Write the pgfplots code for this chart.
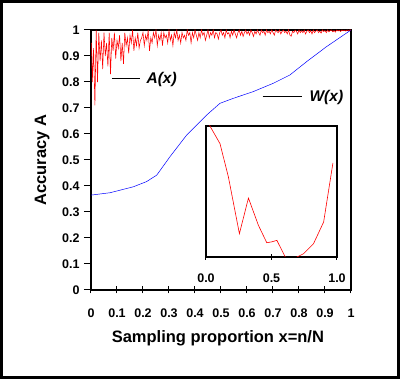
\documentclass[border=0pt]{standalone}
\usepackage{pgfplots}
\pgfplotsset{compat=1.18}
\usepackage{fontspec}
\setmainfont{Liberation Sans}
\begin{document}
\begin{tikzpicture}
\begin{axis}[name=main, at={(0,0)}, anchor=south west,
  width=260pt, height=260pt, scale only axis,
  xmin=0, xmax=1, ymin=0, ymax=1,
  xtick={0,0.1,...,1}, ytick={0,0.1,...,1},
  xtick pos=left, ytick pos=left,
  x tick style={black, line width=1pt}, y tick style={black, line width=1pt},
  xtick align=center, ytick align=outside,
  major tick length=7pt,
  axis line style={line width=1.3pt},
  /pgf/number format/assume math mode=true,
  ticklabel style={font=\fontsize{12.5}{14}\selectfont\bfseries},
  xticklabel style={anchor=center, yshift=-20pt},
  yticklabel style={anchor=east, xshift=-1pt},
  xlabel={Sampling proportion x=n/N},
  ylabel={Accuracy A},
  label style={font=\fontsize{16.5}{18}\selectfont\bfseries},
  xlabel style={at={(axis description cs:0.488,-0.185)}, anchor=center},
  ylabel style={at={(axis description cs:-0.188,0.5)}, anchor=center},
  clip=true,
]
\addplot[blue, line width=0.5pt] coordinates {
(0,0.365) (0.073,0.374) (0.163,0.397) (0.214,0.417) (0.253,0.442) (0.304,0.513)
(0.368,0.596) (0.445,0.673) (0.496,0.718) (0.547,0.737) (0.624,0.763) (0.701,0.795)
(0.765,0.827) (0.829,0.878) (0.906,0.936) (1,1)};
\addplot[red, line width=0.55pt] coordinates {
(0.002,0.95) (0.005,0.80) (0.010,0.93) (0.015,0.71) (0.020,1.00) (0.025,0.80) (0.030,0.99)
(0.035,0.88) (0.040,0.96) (0.045,0.85) (0.050,0.99) (0.055,0.90) (0.060,0.95)
(0.065,0.86) (0.070,0.99) (0.075,0.83) (0.080,0.97) (0.085,0.92) (0.090,0.99)
(0.095,0.89) (0.100,0.96) (0.105,0.93) (0.110,0.98) (0.115,0.88) (0.120,0.95)
(0.125,0.87) (0.130,0.99) (0.135,0.94) (0.140,0.97) (0.145,0.91) (0.150,0.98)
(0.155,0.95) (0.160,1.00) (0.165,0.92) (0.170,0.97) (0.175,0.94) (0.180,0.99)
(0.185,0.93) (0.190,0.96) (0.195,0.97) (0.200,0.99) (0.205,0.94) (0.210,0.98)
(0.215,0.96) (0.220,1.00) (0.225,0.92) (0.230,0.97) (0.235,0.95) (0.240,0.99)
(0.245,0.97) (0.250,1.00) (0.255,0.94) (0.260,0.98) (0.265,0.96) (0.270,0.99)
(0.275,0.94) (0.280,0.99) (0.285,0.97) (0.290,0.98) (0.295,0.95) (0.300,1.00)
(0.305,0.96) (0.310,0.98) (0.315,0.94) (0.320,0.99) (0.325,0.97) (0.330,1.00)
(0.335,0.96) (0.340,0.98) (0.345,0.95) (0.350,0.99) (0.355,0.97) (0.360,0.98)
(0.365,0.96) (0.370,1.00) (0.375,0.98) (0.380,0.99) (0.385,0.95) (0.390,0.99)
(0.395,0.97) (0.400,1.00) (0.405,0.98) (0.410,0.96) (0.415,0.99) (0.420,0.97)
(0.425,1.00) (0.430,0.98) (0.435,0.99) (0.440,0.96) (0.445,0.98) (0.450,1.00)
(0.455,0.97) (0.460,0.99) (0.465,0.98) (0.470,1.00) (0.475,0.97) (0.480,0.99)
(0.485,0.985) (0.490,0.965) (0.495,0.99) (0.500,1.00) (0.505,0.98) (0.510,0.99)
(0.515,0.97) (0.520,1.00) (0.525,0.985) (0.530,0.99) (0.535,0.97) (0.540,0.995)
(0.545,0.98) (0.550,1.00) (0.555,0.985) (0.560,0.97) (0.565,0.99) (0.570,1.00)
(0.575,0.98) (0.580,0.995) (0.585,0.975) (0.590,0.99) (0.595,1.00) (0.600,0.985)
(0.605,0.995) (0.610,0.98) (0.615,1.00) (0.620,0.99) (0.625,0.975) (0.630,0.995)
(0.635,0.985) (0.640,1.00) (0.645,0.99) (0.650,0.98) (0.655,1.00) (0.660,0.99)
(0.665,0.995) (0.670,0.98) (0.675,1.00) (0.680,0.99) (0.685,0.995) (0.690,0.985)
(0.695,1.00) (0.700,0.99) (0.705,0.98) (0.710,1.00) (0.715,0.995) (0.720,0.99)
(0.725,1.00) (0.730,0.985) (0.735,0.995) (0.740,1.00) (0.745,0.99) (0.750,0.995)
(0.755,0.985) (0.760,1.00) (0.765,0.98) (0.770,0.976) (0.775,0.995) (0.780,0.99)
(0.785,1.00) (0.790,0.995) (0.795,0.985) (0.800,1.00) (0.805,0.99) (0.810,0.997)
(0.815,0.99) (0.820,1.00) (0.825,0.985) (0.830,0.995) (0.835,1.00) (0.840,0.99)
(0.845,0.997) (0.850,0.985) (0.855,1.00) (0.860,0.99) (0.865,0.996) (0.870,1.00)
(0.875,0.99) (0.880,0.996) (0.885,0.988) (0.890,1.00) (0.895,0.994) (0.900,0.998)
(0.905,0.99) (0.910,1.00) (0.915,0.993) (0.920,0.998) (0.925,1.00) (0.930,0.993)
(0.935,0.998) (0.940,0.992) (0.945,1.00) (0.950,0.996) (0.955,0.999) (0.960,0.994)
(0.965,1.00) (0.970,0.997) (0.975,0.999) (0.980,0.996) (0.985,1.00) (0.990,0.998)
(0.995,1.00) (1.000,1.00)};
\draw[black, line width=1pt] (axis cs:0.08,0.815) -- (axis cs:0.19,0.815);
\node[anchor=west, font=\fontsize{15.5}{17}\selectfont\bfseries\itshape, inner sep=0pt] at (axis cs:0.213,0.81) {A(x)};
\draw[black, line width=1pt] (axis cs:0.66,0.746) -- (axis cs:0.81,0.746);
\node[anchor=west, font=\fontsize{15.5}{17}\selectfont\bfseries\itshape, inner sep=0pt] at (axis cs:0.84,0.742) {W(x)};
\end{axis}
\begin{axis}[at={(115pt,33pt)}, anchor=south west,
  width=131pt, height=131pt, scale only axis,
  xmin=0, xmax=1, ymin=0, ymax=1,
  xtick={0,0.5,1}, ytick=\empty,
  xtick pos=left, xtick align=center, major tick length=6pt,
  x tick style={black, line width=1pt},
  axis line style={line width=1.3pt},
  axis background/.style={fill=white},
  /pgf/number format/assume math mode=true,
  xticklabel style={font=\fontsize{12.5}{14}\selectfont\bfseries, anchor=center, yshift=-18pt,
    /pgf/number format/.cd, fixed, fixed zerofill, precision=1},
  clip=true,
]
\addplot[red, line width=0.6pt] coordinates {
(0.02,1.03) (0.03,1.0) (0.107,0.865) (0.171,0.611) (0.255,0.178) (0.324,0.450)
(0.40,0.242) (0.464,0.109) (0.50,0.115) (0.541,0.127) (0.605,0.0) (0.65,-0.05)
(0.694,0.0) (0.745,0.025) (0.82,0.10) (0.898,0.267) (0.969,0.718)};
\end{axis}
\draw[line width=3pt] (-89.5pt,-87.5pt) rectangle (307.5pt,288.5pt);
\end{tikzpicture}
\end{document}
